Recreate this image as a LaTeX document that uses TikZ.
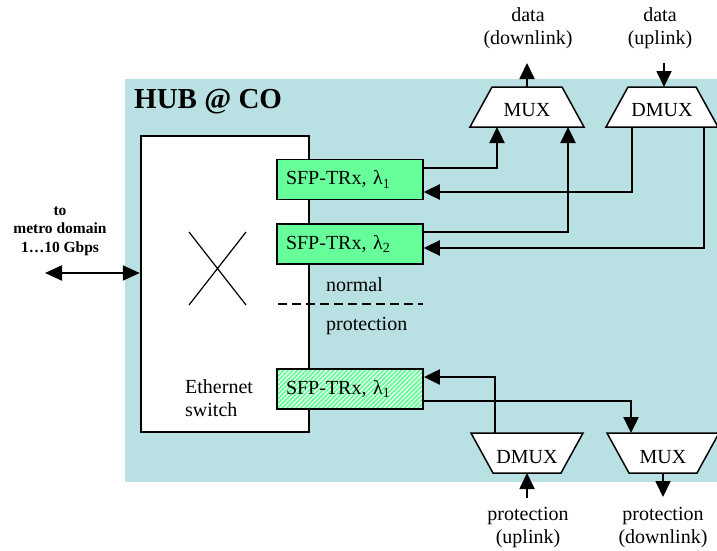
\documentclass[tikz,border=0pt]{standalone}
\usepackage{fontspec}
\setmainfont{Liberation Serif}
\usetikzlibrary{arrows.meta,patterns.meta}
\definecolor{hubbg}{RGB}{185,224,227}
\definecolor{sfpgreen}{RGB}{102,255,153}
\begin{document}
\begin{tikzpicture}[x=1pt,y=-1pt,
  font=\fontsize{20}{23}\selectfont,
  thinln/.style={line width=1.2pt},
  thickln/.style={line width=2.4pt},
  tip/.style={-{Triangle[length=16pt,width=15pt]}},
  sfpbox/.style={draw, line width=1.5pt, fill=sfpgreen, minimum width=146pt, minimum height=40pt, inner sep=0pt, text width=128pt, align=left},
  trap/.style={draw, line width=1.5pt, fill=white, line join=miter},
  lbl/.style={inner sep=0pt, align=center}
]
\useasboundingbox (0,0) rectangle (717,550);
\fill[hubbg] (125,79) rectangle (717,482);
\node[lbl, anchor=west, font=\fontsize{29}{32}\selectfont\bfseries] (hub) at (134,102) {HUB @ CO};

% Ethernet switch
\node[draw, line width=2.5pt, fill=white, minimum width=168pt, minimum height=296pt, inner sep=0pt] (sw) at (225,284) {};
\draw[line width=1.2pt] (189,232) -- (246,305) (189,305) -- (246,232);
\node[inner sep=0pt, align=left, anchor=west] (swlbl) at (185,398.5) {Ethernet\\switch};

% transceivers
\node[sfpbox] (sfp1) at (350,179.5) {SFP-TRx, λ\textsubscript{1}};
\node[sfpbox] (sfp2) at (350,244) {SFP-TRx, λ\textsubscript{2}};
\node[sfpbox, preaction={fill=white}, fill=none, pattern={Lines[angle=45,distance=3.2pt,line width=1.9pt]}, pattern color=sfpgreen] (sfp3) at (350,389) {SFP-TRx, λ\textsubscript{1}};

% normal / protection separator
\draw[line width=2.8pt, dash pattern=on 9pt off 5pt] (278,304) -- (423,304);
\node[inner sep=0pt, anchor=west] (normal) at (326,285) {normal};
\node[inner sep=0pt, anchor=west] (prot) at (326,326) {protection};

% upper MUX / DMUX
\draw[trap] (470,127) -- (492,87) -- (562,87) -- (584,127) -- cycle;
\node[lbl] (mux1) at (527,110) {MUX};
\draw[trap] (606,127) -- (628,87) -- (696,87) -- (718,127) -- cycle;
\node[lbl] (dmux1) at (662,110) {DMUX};
% lower DMUX / MUX
\draw[trap] (471,433) -- (583,433) -- (561,473) -- (493,473) -- cycle;
\node[lbl] (dmux2) at (527,457) {DMUX};
\draw[trap] (607,433) -- (719,433) -- (697,473) -- (629,473) -- cycle;
\node[lbl] (mux2) at (663,457) {MUX};

\coordinate (m1a) at (497,127);
\coordinate (m1b) at (568,127);
\coordinate (m1top) at (527,87);
\coordinate (d1a) at (632,127);
\coordinate (d1b) at (704,127);
\coordinate (d1top) at (664,87);
\coordinate (d2top) at (495,433);
\coordinate (d2bot) at (527,473);
\coordinate (m2top) at (631,433);
\coordinate (m2bot) at (663,473);

% connections
\coordinate (c1) at (m1a |- 0,168);
\draw[thinln] (sfp1.east |- c1) -- (c1);
\draw[thickln,tip] ([yshift=-1.2pt]c1) -- (m1a);

\coordinate (c2) at (d1a |- 0,192);
\draw[thinln] (d1a) -- (c2);
\draw[thickln,tip] ([xshift=0.6pt]c2) -- (sfp1.east |- c2);

\coordinate (c3) at (m1b |- 0,232);
\draw[thinln] (sfp2.east |- c3) -- (c3);
\draw[thickln,tip] ([yshift=-1.2pt]c3) -- (m1b);

\coordinate (c4) at (d1b |- 0,248);
\draw[thinln] (d1b) -- (c4);
\draw[thickln,tip] ([xshift=0.6pt]c4) -- (sfp2.east |- c4);

\coordinate (c5) at (d2top |- 0,377);
\draw[thinln] (d2top) -- (c5);
\draw[thickln,tip] ([xshift=0.6pt]c5) -- (sfp3.east |- c5);

\coordinate (c6) at (m2top |- 0,401);
\draw[thinln] (sfp3.east |- c6) -- (c6);
\draw[thickln,tip] ([yshift=1.2pt]c6) -- (m2top);

% external data / protection ports
\node[lbl] (dl) at (528,28.5) {data\\(downlink)};
\node[lbl] (ul) at (660,28.5) {data\\(uplink)};
\node[lbl] (pul) at (528,527) {protection\\(uplink)};
\node[lbl] (pdl) at (663,527) {protection\\(downlink)};
\coordinate (dlend) at (527,63);
\coordinate (ulstart) at (664,63);
\coordinate (pulstart) at (527,498);
\coordinate (pdlend) at (663,497);
\draw[line width=1.8pt,tip] (m1top) -- (dlend);
\draw[line width=1.8pt,tip] (ulstart) -- (d1top);
\draw[line width=1.8pt,tip] (pulstart) -- (d2bot);
\draw[line width=1.8pt,tip] (m2bot) -- (pdlend);

% metro link
\node[lbl, font=\fontsize{15.5}{18.5}\selectfont\bfseries] (metro) at (60,231) {to\\metro domain\\1…10 Gbps};
\coordinate (metroend) at (45,273);
\draw[line width=2.2pt, {Triangle[length=17pt,width=15pt]}-{Triangle[length=17pt,width=15pt]}] (metroend) -- (sw.west |- metroend);
\end{tikzpicture}
\end{document}
